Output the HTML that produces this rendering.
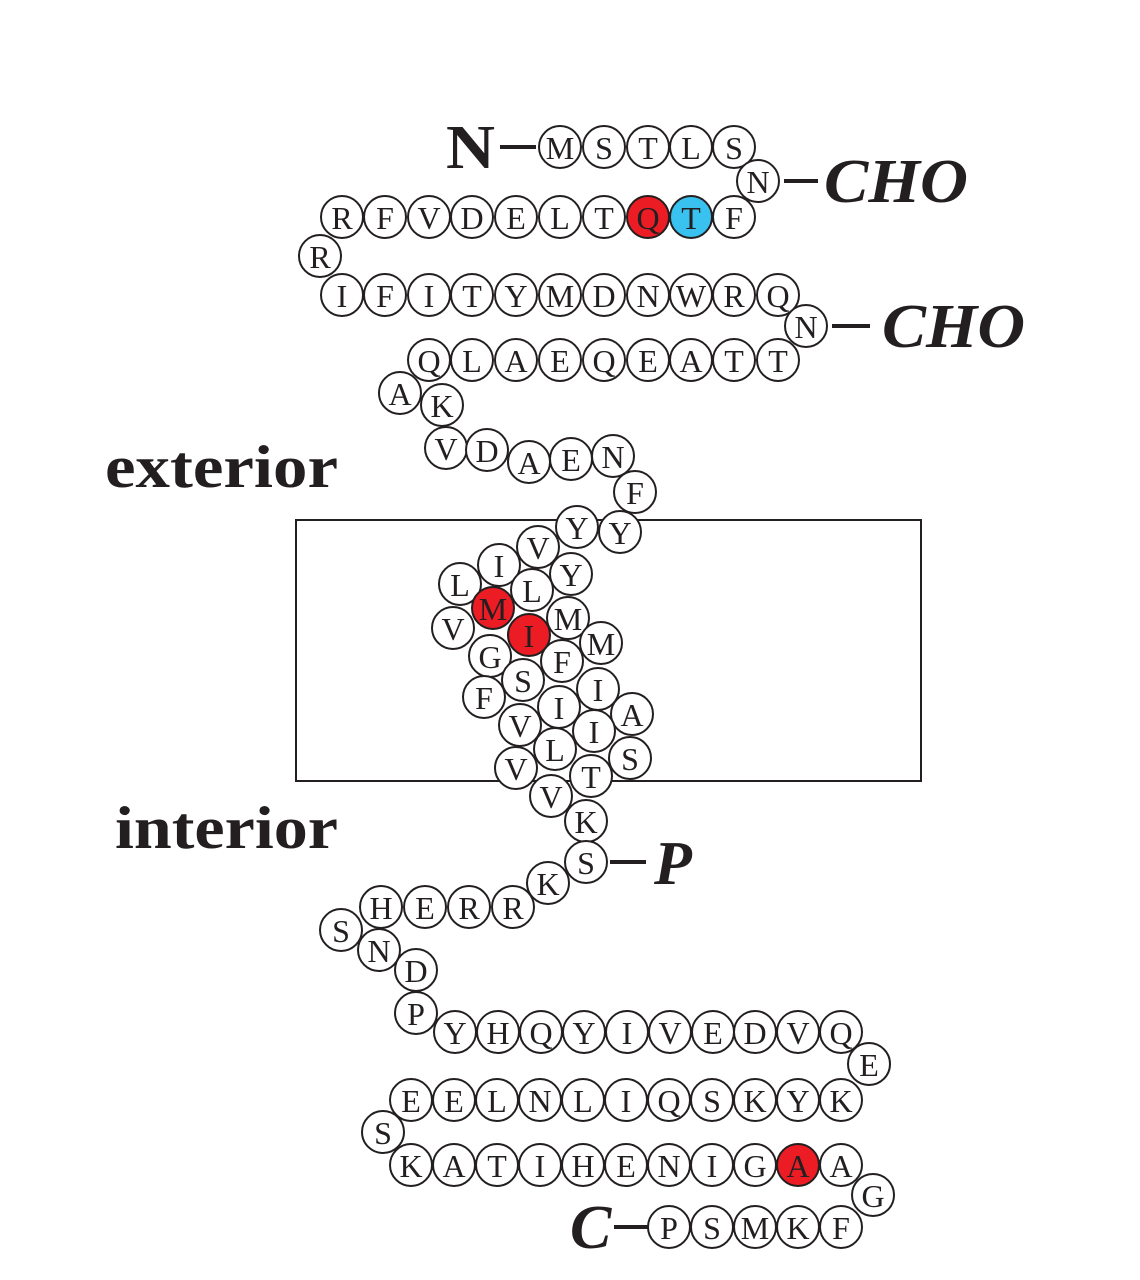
<!DOCTYPE html>
<html><head><meta charset="utf-8"><style>
html,body{margin:0;padding:0;background:#fff}
svg{display:block}
.c circle{fill:#fff;stroke:#231f20;stroke-width:2}
.c text{font-family:"Liberation Serif",serif;font-size:32px;fill:#231f20;text-anchor:middle;dominant-baseline:central}
.lab{font-family:"Liberation Serif",serif;fill:#231f20}
</style></head><body>
<svg width="1140" height="1280" viewBox="0 0 1140 1280" xmlns="http://www.w3.org/2000/svg">
<rect x="296" y="520" width="625" height="261" fill="none" stroke="#231f20" stroke-width="2"/>
<text class="lab" x="105" y="487" font-size="60" font-weight="bold" textLength="233" lengthAdjust="spacingAndGlyphs">exterior</text>
<text class="lab" x="115" y="848" font-size="60" font-weight="bold" textLength="223" lengthAdjust="spacingAndGlyphs">interior</text>
<text class="lab" x="446" y="168" font-size="62" font-weight="bold" textLength="49" lengthAdjust="spacingAndGlyphs">N</text>
<line x1="500" y1="147" x2="536" y2="147" stroke="#231f20" stroke-width="4"/>
<line x1="784" y1="181" x2="818" y2="181" stroke="#231f20" stroke-width="4"/>
<text class="lab" x="824" y="202" font-size="62" font-style="italic" font-weight="bold" textLength="144" lengthAdjust="spacingAndGlyphs">CHO</text>
<line x1="832" y1="326" x2="870" y2="326" stroke="#231f20" stroke-width="4"/>
<text class="lab" x="882" y="347" font-size="62" font-style="italic" font-weight="bold" textLength="143" lengthAdjust="spacingAndGlyphs">CHO</text>
<line x1="610" y1="862" x2="646" y2="862" stroke="#231f20" stroke-width="4"/>
<text class="lab" x="654" y="884" font-size="62" font-style="italic" font-weight="bold">P</text>
<line x1="614" y1="1227" x2="648" y2="1227" stroke="#231f20" stroke-width="4"/>
<text class="lab" x="570" y="1248" font-size="62" font-style="italic" font-weight="bold">C</text>
<g class="c" id="g"></g>
</svg>
<script>
const d=[
["M",560,147],["S",604,147],["T",648,147],["L",691,147],["S",734,147],["N",758,181],
["F",734,217],["T",691,217,"#39c2ef"],["Q",648,217,"#ec1c24"],["T",604,217],["L",560,217],["E",516,217],["D",472,217],["V",429,217],["F",385,217],["R",342,217],
["R",320,256],
["I",342,295],["F",385,295],["I",429,295],["T",472,295],["Y",516,295],["M",560,295],["D",604,295],["N",648,295],["W",691,295],["R",734,295],["Q",778,295],
["N",806,326],
["T",778,360],["T",734,360],["A",691,360],["E",648,360],["Q",604,360],["E",560,360],["A",516,360],["L",472,360],["Q",429,360],
["A",400,393],["K",442,405],
["V",446,448],["D",487,450],["A",529,462],["E",571,459],["N",613,456],["F",635,492],
["Y",620,532],["Y",577,527],["V",538,547],["I",499,565],["L",460,584],["Y",571,574],["L",532,590],["M",493,608,"#ec1c24"],["M",568,618],["V",453,628],["I",529,635,"#ec1c24"],["M",601,643],["G",490,656],["F",562,661],["S",523,680],["I",598,689],["F",484,697],["A",632,714],["I",559,707],["V",520,725],["I",594,731],["L",555,749],["S",630,758],["V",516,768],["T",591,776],["V",551,796],["K",586,821],["S",586,862],["K",548,883],["R",513,907],["R",469,907],["E",425,907],["H",381,907],["S",341,930],["N",379,950],["D",416,970],["P",416,1013],
["Y",455,1032],["H",498,1032],["Q",541,1032],["Y",584,1032],["I",627,1032],["V",670,1032],["E",713,1032],["D",755,1032],["V",798,1032],["Q",841,1032],
["E",869,1064],
["K",841,1100],["Y",798,1100],["K",755,1100],["S",712,1100],["Q",669,1100],["I",626,1100],["L",583,1100],["N",540,1100],["L",497,1100],["E",454,1100],["E",411,1100],
["S",383,1132],
["K",411,1165],["A",454,1165],["T",497,1165],["I",540,1165],["H",583,1165],["E",626,1165],["N",669,1165],["I",712,1165],["G",755,1165],["A",798,1165,"#ec1c24"],["A",841,1165],
["G",873,1195],
["F",841,1227],["K",798,1227],["M",755,1227],["S",712,1227],["P",669,1227]];
const g=document.getElementById('g');let s='';
for(const [t,x,y,f] of d){s+=`<circle cx="${x}" cy="${y}" r="21"${f?` style="fill:${f}"`:''}/><text x="${x}" y="${y+1}">${t}</text>`;}
g.innerHTML=s;
</script>
</body></html>
